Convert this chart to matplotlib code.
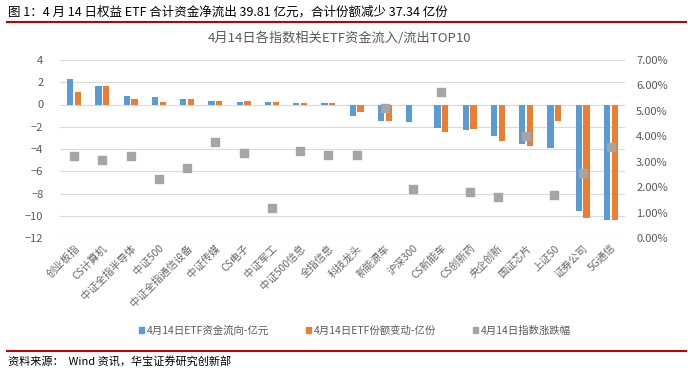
import matplotlib.pyplot as plt
import numpy as np
from matplotlib.patches import Patch
from matplotlib.lines import Line2D
from matplotlib.ticker import FuncFormatter

plt.rcParams['font.family'] = ['Noto Sans CJK SC', 'DejaVu Sans']

categories = ["创业板指", "CS计算机", "中证全指半导体", "中证500", "中证全指通信设备",
              "中证传媒", "CS电子", "中证军工", "中证500信息", "全指信息",
              "科技龙头", "新能源车", "沪深300", "CS新能车", "CS创新药",
              "央企创新", "国证芯片", "上证50", "证券公司", "5G通信"]
flow = [2.33, 1.70, 0.80, 0.63, 0.45, 0.27, 0.20, 0.18, 0.10, 0.10,
        -0.99, -1.44, -1.53, -2.07, -2.25, -2.87, -3.59, -3.95, -9.61, -10.42]
shares = [1.10, 1.70, 0.45, 0.20, 0.45, 0.27, 0.27, 0.18, 0.10, 0.10,
          -0.69, -1.44, 0.0, -2.51, -2.16, -3.32, -3.77, -1.44, -10.24, -10.36]
pct = [3.22, 3.06, 3.22, 2.32, 2.75, 3.77, 3.34, 1.18, 3.42, 3.26,
       3.26, 5.10, 1.92, 5.73, 1.81, 1.62, 4.01, 1.69, 2.55, 3.57]

blue = "#5B9BD5"
orange = "#ED7D31"
gray = "#A5A5A5"
txt = "#595959"

fig = plt.figure(figsize=(6.88, 3.73), dpi=100)
ax = fig.add_axes([60 / 688, 1 - 238 / 373, 565 / 688, 178 / 373])
x = np.arange(len(categories))
w = 0.22
ax.bar(x - 0.14, flow, w, color=blue, zorder=2)
ax.bar(x + 0.14, shares, w, color=orange, zorder=2)
ax.set_xlim(-0.5, len(categories) - 0.5)
ax.set_ylim(-12, 4)
ax.set_yticks(range(-12, 5, 2))
ax.grid(axis='y', color="#D9D9D9", linewidth=0.8, zorder=0)
ax.set_axisbelow(True)
for s in ax.spines.values():
    s.set_visible(False)
ax.tick_params(axis='both', length=0, colors=txt, labelsize=8)
ax.tick_params(axis='y', pad=12)
ax.set_xticks(x)
ax.set_xticklabels(categories, rotation=45, ha='right', rotation_mode='anchor',
                   fontsize=7.5, color="#666666")

ax2 = ax.twinx()
ax2.scatter(x, np.array(pct) / 100, marker='s', s=30, color=gray, zorder=3)
ax2.set_ylim(0, 0.07)
ax2.set_yticks(np.arange(0, 0.0701, 0.01))
ax2.yaxis.set_major_formatter(FuncFormatter(lambda v, p: f"{v * 100:.2f}%"))
for s in ax2.spines.values():
    s.set_visible(False)
ax2.tick_params(axis='y', length=0, colors=txt, labelsize=8, pad=8)

fig.text(0.012, 1 - 12 / 373, "图 1：4 月 14 日权益 ETF 合计资金净流出 39.81 亿元，合计份额减少 37.34 亿份",
         fontsize=9, color="black", va='center', ha='left')
fig.add_artist(Line2D([0.01, 0.997], [1 - 22 / 373, 1 - 22 / 373], color="#C00000", linewidth=1.5))
fig.text(340 / 688, 1 - 38 / 373, "4月14日各指数相关ETF资金流入/流出TOP10",
         fontsize=9.5, color=txt, ha='center', va='center')

handles = [Patch(color=blue), Patch(color=orange), Patch(color=gray)]
labels = ["4月14日ETF资金流向-亿元", "4月14日ETF份额变动-亿份", "4月14日指数涨跌幅"]
fig.legend(handles, labels, loc='center', bbox_to_anchor=(355 / 688, 1 - 331 / 373), ncol=3,
           frameon=False, fontsize=7.5, handlelength=0.5, handleheight=0.5,
           handletextpad=0.3, columnspacing=3.5, labelcolor=txt)

fig.add_artist(Line2D([0.01, 0.997], [1 - 351 / 373, 1 - 351 / 373], color="#C00000", linewidth=1.5))
fig.text(0.012, 1 - 362 / 373, "资料来源：  Wind 资讯，华宝证券研究创新部",
         fontsize=8, color="black", va='center', ha='left')

fig.savefig("out.png", dpi=100)
